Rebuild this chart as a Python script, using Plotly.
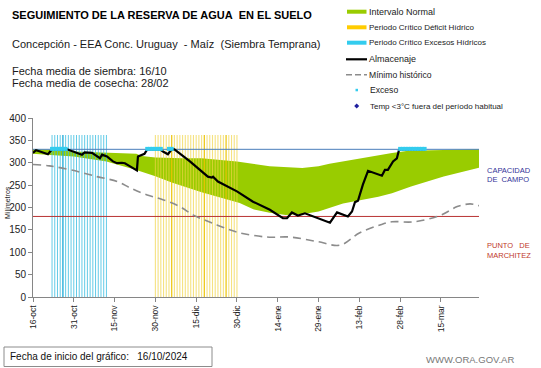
import plotly.graph_objects as go

# ---------------- data (x = days since 16-oct-2024) ----------------
tick_days = [0, 15, 30, 45, 60, 75, 90, 105, 120, 135, 150]
tick_labels = ["16-oct", "31-oct", "15-nov", "30-nov", "15-dic", "30-dic",
               "14-ene", "29-ene", "13-feb", "28-feb", "15-mar"]
x_end = 164

capacidad_campo = 330
punto_marchitez = 180

band_up_days = [0, 6, 15, 30, 38, 40, 45, 55, 62, 75, 87, 99, 105, 109, 120, 132, 138, 150, 164]
band_up = [330, 329, 325, 322, 320, 315, 312, 310, 310, 303, 292, 288, 292, 298, 310, 322, 327, 329, 330]
band_lo_days = [0, 5, 15, 27, 38, 45, 51, 62, 76, 81, 87, 93, 100, 105, 114, 127, 132, 139, 151, 164]
band_lo = [320, 318, 314, 303, 284, 270, 256, 234, 210, 196, 188, 183, 186, 191, 209, 224, 232, 247, 269, 289]

min_days = [0, 6, 14, 23.5, 31, 36, 42, 48, 54, 59, 66, 75, 86, 94.5, 104.4, 113, 120, 127.6, 132, 140, 150, 156, 160.7, 164]
min_hist = [296, 293, 284, 269, 258, 243, 228, 217, 202, 183, 165, 145, 134, 134, 124, 116, 143, 161, 168, 168, 183, 202, 208, 204]

alm_days = [0, 1.1, 2.6, 5.5, 7, 12.5, 18, 19, 21.7, 24.6, 25.4, 27.2, 29.4, 30.9, 32.7, 33.8, 35.7, 38.2, 38.6,
            40, 41, 42, 46.7, 47.8, 49.6, 51, 52, 57.7, 64.3, 65.8, 66.2, 68, 75, 80.9, 87.1, 91.9, 93.4, 95.2,
            97.4, 100, 109.2, 111.8, 115.8, 117.3, 118.4, 119.5, 121.3, 123.2, 128.3, 129.4, 130.5, 132.4, 133.8,
            134.6, 144]
almacenaje = [322, 328, 325, 319, 330, 330, 318, 323, 322, 310, 318, 314, 303, 299, 300, 299, 292, 283, 314,
              318, 320, 330, 330, 325, 319, 330, 330, 303, 269, 267, 269, 258, 236, 213, 195, 176, 176, 189,
              182, 187, 166, 189, 180, 191, 212, 215, 251, 282, 271, 284, 284, 303, 310,
              329, 330]

exceso_days = [7, 8, 9, 10, 11, 12, 42, 43, 44, 45, 46, 47, 50, 51,
               135, 136, 137, 138, 139, 140, 141, 142, 143, 144]
exceso = [331] * len(exceso_days)

crit_exc_days = list(range(7, 28))
crit_exc_strong = [11]
crit_def_days = list(range(45, 76))
crit_def_strong = [51, 63, 71]
crit_height = 362

# ---------------- helpers (pixel -> paper) ----------------
L, R, T, B = 33, 479, 118, 297
def px(x):
    return (x - L) / (R - L)
def py(y):
    return (B - y) / (B - T)

def vlines(days, top):
    xs, ys = [], []
    for d in days:
        xs += [d, d, None]
        ys += [0, top, None]
    return xs, ys

fig = go.Figure()

# Intervalo normal
fig.add_trace(go.Scatter(
    x=band_up_days + band_lo_days[::-1], y=band_up + band_lo[::-1],
    fill="toself", fillcolor="#99cc00", line=dict(width=0, color="#99cc00"),
    mode="lines", hoverinfo="skip", showlegend=False))

# Periodo critico excesos (cyan) and deficit (yellow)
xs, ys = vlines([d for d in crit_exc_days if d not in crit_exc_strong], crit_height)
fig.add_trace(go.Scatter(x=xs, y=ys, mode="lines", line=dict(color="rgba(60,190,225,0.8)", width=1),
                         showlegend=False, hoverinfo="skip"))
xs, ys = vlines(crit_exc_strong, crit_height)
fig.add_trace(go.Scatter(x=xs, y=ys, mode="lines", line=dict(color="rgba(30,170,215,0.95)", width=1.4),
                         showlegend=False, hoverinfo="skip"))
xs, ys = vlines([d for d in crit_def_days if d not in crit_def_strong], crit_height)
fig.add_trace(go.Scatter(x=xs, y=ys, mode="lines", line=dict(color="rgba(240,212,70,0.68)", width=1.1),
                         showlegend=False, hoverinfo="skip"))
xs, ys = vlines(crit_def_strong, crit_height)
fig.add_trace(go.Scatter(x=xs, y=ys, mode="lines", line=dict(color="rgba(235,195,0,0.9)", width=1.3),
                         showlegend=False, hoverinfo="skip"))

# reference lines
fig.add_trace(go.Scatter(x=[0, x_end], y=[capacidad_campo] * 2, mode="lines",
                         line=dict(color="#4a7ebb", width=1), showlegend=False, hoverinfo="skip"))
fig.add_trace(go.Scatter(x=[0, x_end], y=[punto_marchitez] * 2, mode="lines",
                         line=dict(color="#b83232", width=1), showlegend=False, hoverinfo="skip"))

# Minimo historico
fig.add_trace(go.Scatter(x=min_days, y=min_hist, mode="lines", line_shape="spline",
                         line=dict(color="#8c8c8c", width=1.6, dash="8px,5px"),
                         showlegend=False, hoverinfo="skip"))

# Almacenaje
fig.add_trace(go.Scatter(x=alm_days, y=almacenaje, mode="lines",
                         line=dict(color="#000000", width=2.2), showlegend=False))

# Exceso
fig.add_trace(go.Scatter(x=exceso_days, y=exceso, mode="markers",
                         marker=dict(symbol="square", size=4, color="#33ccee", line=dict(width=0)),
                         showlegend=False))

FONT = "Liberation Sans, Arial, sans-serif"
ann = []
def text(x, y, s, size, color="#000000", bold=False, anchor="left", angle=0):
    ann.append(dict(x=px(x), y=py(y), xref="paper", yref="paper", text=("<b>%s</b>" % s) if bold else s,
                    showarrow=False, xanchor=anchor, yanchor="middle", textangle=angle, borderpad=0,
                    font=dict(family=FONT, size=size, color=color)))

text(11, 15, "SEGUIMIENTO DE LA RESERVA DE AGUA\u00a0 EN EL SUELO", 11, bold=True)
text(11, 44, "Concepción - EEA Conc. Uruguay\u00a0 - Maíz\u00a0 (Siembra Temprana)", 11, "#1a1a1a")
text(11, 70.5, "Fecha media de siembra: 16/10", 11, "#1a1a1a")
text(11, 83, "Fecha media de cosecha: 28/02", 11, "#1a1a1a")

# legend
leg_x = 368
text(leg_x, 11.5, "Intervalo Normal", 9, "#222222")
text(leg_x, 27.3, "Periodo Crítico Déficit Hídrico", 8, "#222222")
text(leg_x, 42.7, "Periodo Crítico Excesos Hídricos", 8, "#222222")
text(leg_x, 59, "Almacenaje", 9, "#222222")
text(leg_x, 74.5, "Mínimo histórico", 8.6, "#222222")
text(leg_x + 1, 90, "Exceso", 8.6, "#222222")
text(leg_x + 1, 106, "Temp <3°C fuera del período habitual", 8, "#222222")

text(486, 170.5, "CAPACIDAD", 7.5, "#333399")
text(486, 179, "DE\u00a0\u00a0CAMPO", 7.5, "#333399")
text(486, 245.5, "PUNTO\u00a0\u00a0 DE", 7.5, "#c0392b")
text(486, 255, "MARCHITEZ", 7.5, "#c0392b")

text(7, 203, "Milímetros", 7, "#222222", anchor="center", angle=-90)

text(9, 356.5, "Fecha de inicio del gráfico:\u00a0\u00a0 16/10/2024", 10, "#111111")
text(425, 359, "WWW.ORA.GOV.AR", 9.5, "#777777")

shapes = []
def rect(x0, y0, x1, y1, fill=None, line=None, lw=0):
    shapes.append(dict(type="rect", xref="paper", yref="paper", x0=px(x0), x1=px(x1), y0=py(y0), y1=py(y1),
                       fillcolor=fill, line=dict(color=line or "rgba(0,0,0,0)", width=lw), layer="above"))
def seg(x0, y0, x1, y1, color, width, dash="solid"):
    shapes.append(dict(type="line", xref="paper", yref="paper", x0=px(x0), x1=px(x1), y0=py(y0), y1=py(y1),
                       line=dict(color=color, width=width, dash=dash), layer="above"))

rect(347, 9.7, 366.5, 13.7, fill="#99cc00")
rect(347, 25.3, 366.5, 29.3, fill="#ffcc00")
rect(347, 40.7, 366.5, 44.7, fill="#33ccee")
seg(346, 59.3, 367, 59.3, "#000000", 2.2)
seg(346, 74.7, 367, 74.7, "#8c8c8c", 1.6, "6px,3px")
rect(355.5, 88.8, 358, 91.3, fill="#33ccee")
shapes.append(dict(type="path", xref="paper", yref="paper",
                   path="M %f,%f L %f,%f L %f,%f L %f,%f Z" % (px(356.7), py(103.5), px(359.2), py(106),
                                                               px(356.7), py(108.5), px(354.2), py(106)),
                   fillcolor="#1f1f9f", line=dict(width=0), layer="above"))
rect(4, 347, 212, 366.5, line="#8c8c8c", lw=1)

fig.update_layout(
    width=541, height=368,
    margin=dict(l=L, r=541 - R, t=T, b=368 - B, pad=0, autoexpand=False),
    plot_bgcolor="white", paper_bgcolor="white",
    showlegend=False,
    annotations=ann, shapes=shapes,
    font=dict(family=FONT),
    xaxis=dict(range=[0, x_end], tickmode="array", tickvals=tick_days, ticktext=tick_labels,
               tickangle=-90, showgrid=False, zeroline=False, showline=True, linecolor="#868686",
               linewidth=1, ticks="outside", ticklen=4, tickcolor="#868686",
               tickfont=dict(family=FONT, size=8.5, color="#222222")),
    yaxis=dict(range=[0, 400], tickmode="linear", tick0=0, dtick=50, showgrid=False, zeroline=False,
               showline=True, linecolor="#868686", linewidth=1, ticks="outside", ticklen=4,
               tickcolor="#868686", tickfont=dict(family=FONT, size=10, color="#222222")),
)

fig.write_html("out.html", config={"displayModeBar": False},
               post_script="document.body.style.margin='0';document.body.style.overflow='hidden';")
